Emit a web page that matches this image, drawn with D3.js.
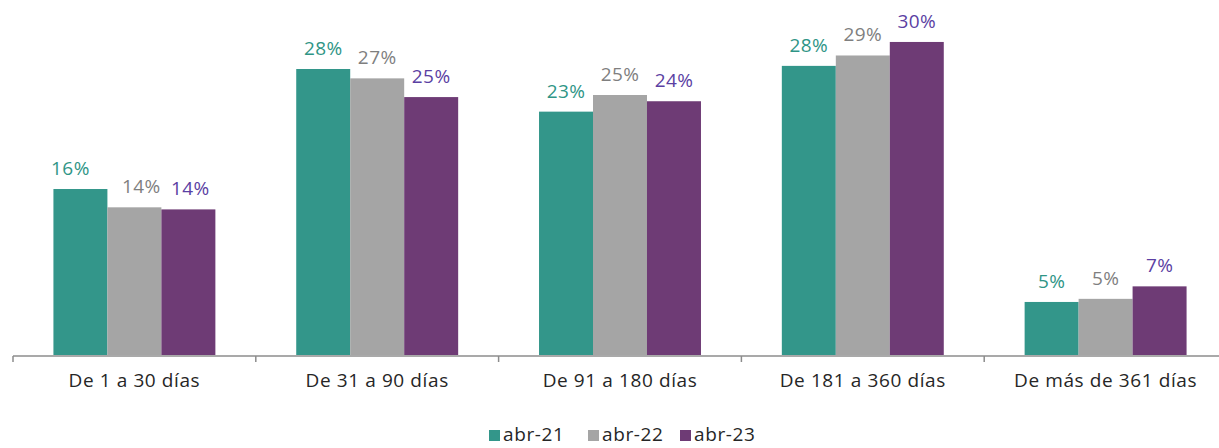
<!DOCTYPE html>
<html>
<head>
<meta charset="utf-8">
<script src="https://cdn.jsdelivr.net/npm/d3@7"></script>
<style>
  body { margin: 0; background: #fff; }
  svg { display: block; font-family: "Open Sans", "Noto Sans", sans-serif; }
</style>
</head>
<body>
<div id="chart"></div>
<script>
// categories and series
var categories = ['De 1 a 30 días', 'De 31 a 90 días', 'De 91 a 180 días', 'De 181 a 360 días', 'De más de 361 días'];
var seriesNames = ['abr-21', 'abr-22', 'abr-23'];
var abr21 = [15.96, 27.5, 23.4, 27.8, 5.1];
var abr22 = [14.2, 26.6, 25.0, 28.8, 5.4];
var abr23 = [14.0, 24.8, 24.4, 30.1, 6.6];

var barColors = ['#33968a', '#a5a5a5', '#6e3b75'];
var labelColors = ['#2f9586', '#7f7f7f', '#5b3fa3'];

var w = 1219, h = 448;
var margin = {left: 13, right: -8, top: 22, bottom: 93};

var svg = d3.select('#chart')
	.append('svg')
	.attr('width', w)
	.attr('height', h);

var data = [abr21, abr22, abr23];

var x0 = d3.scaleBand()
	.domain(categories)
	.range([margin.left, w - margin.right])
	.paddingInner(0.333)
	.paddingOuter(0.1665);

var x1 = d3.scaleBand()
	.domain(seriesNames)
	.range([0, x0.bandwidth()]);

var y = d3.scaleLinear()
	.domain([0, 32])
	.range([h - margin.bottom, h - margin.bottom - 332.8]);

var base = h - margin.bottom;

// excel nudged the first group's labels sideways
var nudge = {0: [-10, 7, 2]};

// bars
categories.forEach(function(c, ci) {
	var g = svg.append('g')
		.attr('transform', 'translate(' + x0(c) + ',0)');

	seriesNames.forEach(function(s, si) {
		var v = data[si][ci];
		var dx = nudge[ci] ? nudge[ci][si] : 0;
		g.append('rect')
			.attr('x', x1(s))
			.attr('y', y(v))
			.attr('width', x1.bandwidth())
			.attr('height', base - y(v))
			.attr('fill', barColors[si]);

		g.append('text')
			.attr('x', x1(s) + x1.bandwidth() / 2 + dx)
			.attr('y', y(v) - 14)
			.attr('text-anchor', 'middle')
			.attr('font-size', 19)
			.attr('letter-spacing', 0.4)
			.attr('fill', labelColors[si])
			.text(Math.round(v) + '%');
	});
});

// x axis with ticks between categories
var axis = svg.append('g').attr('class', 'xaxis');

axis.append('line')
	.attr('x1', margin.left)
	.attr('x2', w - margin.right)
	.attr('y1', base + 1)
	.attr('y2', base + 1)
	.attr('stroke', '#8c8c8c')
	.attr('stroke-width', 1.5);

d3.range(categories.length + 1).forEach(function(i) {
	var xt = margin.left + i * x0.step();
	axis.append('line')
		.attr('x1', xt).attr('x2', xt)
		.attr('y1', base + 1).attr('y2', base + 7)
		.attr('stroke', '#8c8c8c')
		.attr('stroke-width', 1.5);
});

categories.forEach(function(c) {
	axis.append('text')
		.attr('x', x0(c) + x0.bandwidth() / 2)
		.attr('y', base + 32)
		.attr('text-anchor', 'middle')
		.attr('font-size', 19)
		.attr('letter-spacing', 0.6)
		.attr('fill', '#262626')
		.text(c);
});

// legend (kept a bit higher so the text is not clipped)
var legendX = [489, 588, 680];
var legend = svg.append('g').attr('class', 'legend');

seriesNames.forEach(function(s, i) {
	legend.append('rect')
		.attr('x', legendX[i])
		.attr('y', 430)
		.attr('width', 11)
		.attr('height', 11)
		.attr('fill', barColors[i]);

	legend.append('text')
		.attr('x', legendX[i] + 14)
		.attr('y', 441)
		.attr('font-size', 19)
		.attr('letter-spacing', 0.6)
		.attr('fill', '#262626')
		.text(s);
});
</script>
</body>
</html>
